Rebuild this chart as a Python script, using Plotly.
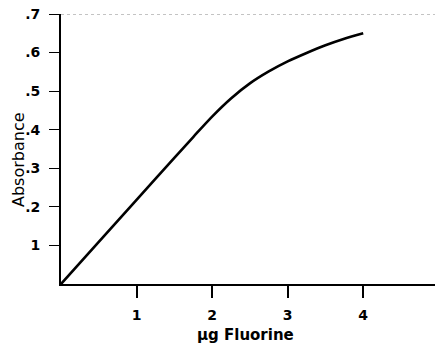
import plotly.graph_objects as go

# Data
fluorine_ug = [0, 0.5, 1.0, 1.5, 1.75, 2.0, 2.25, 2.5, 2.75, 3.0, 3.25, 3.5, 3.75, 4.0]
absorbance = [0, 0.109, 0.218, 0.327, 0.381, 0.434, 0.481, 0.520, 0.551, 0.577, 0.599, 0.619, 0.636, 0.650]

x_tickvals = [1, 2, 3, 4]
x_ticktext = ["1", "2", "3", "4"]
y_tickvals = [0.1, 0.2, 0.3, 0.4, 0.5, 0.6, 0.7]
y_ticktext = ["1", ".2", ".3", ".4", ".5", ".6", ".7"]

FONT = "DejaVu Sans, sans-serif"
W, H = 435, 343
L, R, T, B = 61, 0, 14, 59
PW, PH = W - L - R, H - T - B

fig = go.Figure()
fig.add_trace(go.Scatter(
    x=fluorine_ug, y=absorbance, mode="lines",
    line=dict(color="black", width=2.6, shape="spline", smoothing=0.8),
    hoverinfo="skip", showlegend=False,
))

fig.update_layout(
    width=W, height=H,
    margin=dict(l=L, r=R, t=T, b=B),
    paper_bgcolor="white", plot_bgcolor="white",
    font=dict(family=FONT, color="black"),
    xaxis=dict(
        range=[0, 4.95], tickvals=x_tickvals, ticktext=x_ticktext, automargin=False,
        showgrid=False, zeroline=False, showline=True, linecolor="black", linewidth=2,
        ticks="outside", ticklen=12, tickwidth=1.5, tickcolor="black",
        ticklabelstandoff=5,
        tickfont=dict(size=14, family=FONT, weight="bold"),
    ),
    yaxis=dict(
        range=[0, 0.7], tickvals=y_tickvals, ticktext=y_ticktext, automargin=False,
        showgrid=False, zeroline=False, showline=True, linecolor="black", linewidth=2,
        ticks="outside", ticklen=10, tickwidth=1.2, tickcolor="black",
        ticklabelstandoff=6,
        tickfont=dict(size=14, family=FONT, weight="bold"),
    ),
    shapes=[dict(type="line", xref="paper", yref="y", x0=0, x1=1, y0=0.7, y1=0.7,
                 line=dict(color="#888888", width=1, dash="dot"))],
    annotations=[
        dict(text="\u03bcg Fluorine", xref="paper", yref="paper",
             x=(245 - L) / PW, y=(H - B - 335) / PH, xanchor="center", yanchor="middle",
             showarrow=False, font=dict(size=15, weight="bold")),
        dict(text="Absorbance", xref="paper", yref="paper", textangle=-90,
             x=(18 - L) / PW, y=(H - B - 160) / PH, xanchor="center", yanchor="middle",
             showarrow=False, font=dict(size=16)),
    ],
)

fig.write_html("out.html", config={"displayModeBar": False},
               post_script="document.body.style.margin='0';")
